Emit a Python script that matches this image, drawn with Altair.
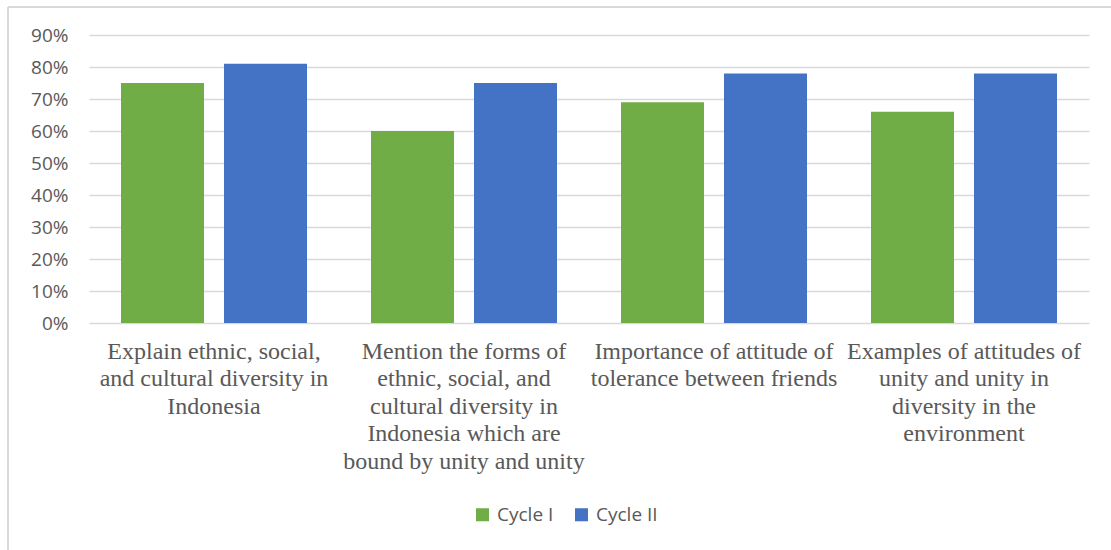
import altair as alt
import pandas as pd

# Category labels, one list of lines per group (joined with "|" as the category key)
label_lines = [
    ["Explain ethnic, social,", "and cultural diversity in", "Indonesia"],
    ["Mention the forms of", "ethnic, social, and", "cultural diversity in",
     "Indonesia which are", "bound by unity and unity"],
    ["Importance of attitude of", "tolerance between friends"],
    ["Examples of attitudes of", "unity and unity in", "diversity in the",
     "environment"],
]
categories = ["|".join(lines) for lines in label_lines]

series = ["Cycle I", "Cycle II"]
cycle_1 = [0.75, 0.60, 0.69, 0.66]
cycle_2 = [0.81, 0.75, 0.78, 0.78]

rows = []
for cat, v1, v2 in zip(categories, cycle_1, cycle_2):
    rows.append({"category": cat, "series": series[0], "value": v1})
    rows.append({"category": cat, "series": series[1], "value": v2})
df = pd.DataFrame(rows)

GREY_TEXT = "#595959"
GRID = "#d9d9d9"

bars = alt.Chart(df).mark_bar().encode(
    x=alt.X(
        "category:N",
        sort=categories,
        scale=alt.Scale(paddingInner=0.256, paddingOuter=0.128),
        axis=alt.Axis(
            title=None,
            labelAngle=0,
            labelExpr="split(datum.label, '|')",
            labelFont="Liberation Serif",
            labelFontSize=24,
            labelLineHeight=27.5,
            labelColor=GREY_TEXT,
            labelPadding=16,
            labelLimit=400,
            domain=False,
            ticks=False,
            grid=False,
        ),
    ),
    xOffset=alt.XOffset(
        "series:N",
        sort=series,
        scale=alt.Scale(paddingInner=0.194, paddingOuter=0),
    ),
    y=alt.Y(
        "value:Q",
        scale=alt.Scale(domain=[0, 0.9], nice=False),
        axis=alt.Axis(
            title=None,
            format=".0%",
            values=[i / 10 for i in range(10)],
            labelFont="Open Sans",
            labelFontSize=19,
            labelColor=GREY_TEXT,
            labelPadding=21,
            domain=False,
            ticks=False,
            grid=True,
            gridColor=GRID,
            gridWidth=1.5,
        ),
    ),
    color=alt.Color(
        "series:N",
        sort=series,
        scale=alt.Scale(domain=series, range=["#70ad47", "#4472c4"]),
        legend=alt.Legend(
            title=None,
            orient="none",
            direction="horizontal",
            legendX=384,
            legendY=470,
            symbolType="square",
            symbolSize=170,
            symbolStrokeWidth=0,
            labelFont="Open Sans",
            labelFontSize=19,
            labelColor=GREY_TEXT,
            labelOffset=5,
            columnPadding=18,
        ),
    ),
)

# Chart frame: light grey lines along the top and left edges
frame_data = alt.Data(values=[{}])
frame_top = alt.Chart(frame_data).mark_rule(color=GRID, strokeWidth=2).encode(
    x=alt.value(-81), x2=alt.value(1022), y=alt.value(-28)
)
frame_left = alt.Chart(frame_data).mark_rule(color=GRID, strokeWidth=2).encode(
    x=alt.value(-81), y=alt.value(-28), y2=alt.value(515)
)

chart = (
    alt.layer(frame_top, frame_left, bars)
    .properties(
        width=1000,
        height=288,
        autosize=alt.AutoSizeParams(type="none"),
        padding={"left": 89, "top": 35, "right": 22, "bottom": 227},
        background="white",
    )
    .configure_view(stroke=None)
)

chart.save("out.html", embed_options={"renderer": "svg", "actions": False})
